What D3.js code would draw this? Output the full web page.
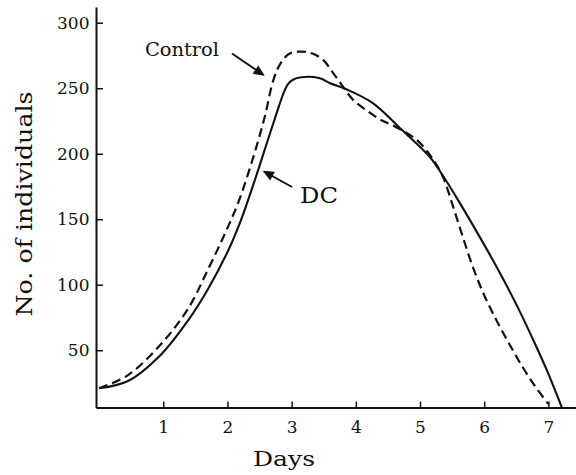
<!DOCTYPE html>
<html>
<head>
<meta charset="utf-8">
<script src="https://cdn.jsdelivr.net/npm/d3@7"></script>
<style>
  html, body { margin: 0; padding: 0; background: #fff; }
  svg { display: block; }
  text { font-family: "DejaVu Serif", serif; fill: #111; }
</style>
</head>
<body>
<script>
// Population counts over time (days) for the control and DC groups
const controlDays = [0, 0.45, 0.97, 1.39, 1.70, 1.96, 2.17, 2.40, 2.58, 2.72, 2.84, 2.97, 3.13, 3.31, 3.49, 3.65, 3.80, 3.96, 4.17, 4.38, 4.58, 4.95, 5.20, 5.36, 5.50, 5.65, 5.82, 6.00, 6.20, 6.40, 6.60, 6.80, 7.00];
const controlCounts = [21, 31, 55, 82, 112, 139, 163, 197, 228, 257, 270, 276.5, 278, 276.7, 271.6, 261.4, 251.2, 241, 233, 226, 221.5, 210.5, 196, 182, 162, 139, 114, 92, 72, 54, 37, 22, 9];

const dcDays = [0, 0.45, 0.97, 1.39, 1.70, 2.01, 2.20, 2.40, 2.60, 2.80, 2.88, 2.94, 3.02, 3.15, 3.44, 3.60, 3.86, 4.27, 4.69, 5.15, 5.36, 5.60, 5.90, 6.20, 6.50, 6.80, 7.00, 7.21];
const dcCounts = [21, 26.5, 47, 73, 97, 126, 148, 176, 206, 236, 247, 253, 256.5, 258.4, 257.6, 253.8, 249, 238.5, 219.4, 197.7, 183, 164, 139, 113, 85, 54, 32, 6.3];

const xTicks = [1, 2, 3, 4, 5, 6, 7];
const yTicks = [50, 100, 150, 200, 250, 300];

const W = 576, H = 475;
const svg = d3.select("body").append("svg").attr("width", W).attr("height", H);

const x = d3.scaleLinear().domain([-0.048, 7.43]).range([96, 576]);
const y = d3.scaleLinear().domain([6.3, 312]).range([407.5, 7]);

// Axes with inward ticks
const xAxis = d3.axisBottom(x).tickValues(xTicks).tickFormat(d3.format("d"))
  .tickSizeInner(-6).tickSizeOuter(0).tickPadding(13);
const yAxis = d3.axisLeft(y).tickValues(yTicks).tickFormat(d3.format("d"))
  .tickSizeInner(-7).tickSizeOuter(0).tickPadding(6.5);

const gx = svg.append("g").attr("transform", `translate(0,${y.range()[0]})`).call(xAxis);
const gy = svg.append("g").attr("transform", `translate(${x.range()[0]},0)`).call(yAxis);

[gx, gy].forEach(g => {
  g.select(".domain").attr("stroke", "#111").attr("stroke-width", 2);
  g.selectAll(".tick line").attr("stroke", "#111").attr("stroke-width", 1.5);
  g.selectAll(".tick text").attr("font-size", 17).attr("fill", "#111")
    .style("font-family", "'DejaVu Serif', serif");
});

// Axis titles
svg.append("text")
  .attr("x", 284).attr("y", 466)
  .attr("text-anchor", "middle")
  .attr("font-size", 21)
  .attr("textLength", 62).attr("lengthAdjust", "spacingAndGlyphs")
  .text("Days");

svg.append("text")
  .attr("transform", "translate(32,204) rotate(-90)")
  .attr("text-anchor", "middle")
  .attr("font-size", 22)
  .attr("textLength", 225).attr("lengthAdjust", "spacingAndGlyphs")
  .text("No. of individuals");

// Curves
const line = d3.line().x(d => x(d[0])).y(d => y(d[1])).curve(d3.curveCatmullRom.alpha(0.5));

svg.append("path")
  .datum(d3.zip(dcDays, dcCounts))
  .attr("d", line)
  .attr("fill", "none").attr("stroke", "#111").attr("stroke-width", 2.1);

svg.append("path")
  .datum(d3.zip(controlDays, controlCounts))
  .attr("d", line)
  .attr("fill", "none").attr("stroke", "#111").attr("stroke-width", 2.2)
  .attr("stroke-dasharray", "9,5");

// Labels with arrows
function arrow(x1, y1, x2, y2) {
  svg.append("line")
    .attr("x1", x1).attr("y1", y1).attr("x2", x2).attr("y2", y2)
    .attr("stroke", "#111").attr("stroke-width", 2);
  const a = Math.atan2(y2 - y1, x2 - x1), L = 10, s = 0.42;
  const p1 = [x2 - L * Math.cos(a - s), y2 - L * Math.sin(a - s)];
  const p2 = [x2 - L * Math.cos(a + s), y2 - L * Math.sin(a + s)];
  svg.append("path")
    .attr("d", `M${p1[0]},${p1[1]}L${x2},${y2}L${p2[0]},${p2[1]}Z`)
    .attr("fill", "#111").attr("stroke", "#111").attr("stroke-width", 1.2)
    .attr("stroke-linejoin", "miter");
}

svg.append("text")
  .attr("x", 145).attr("y", 56)
  .attr("font-size", 18)
  .attr("textLength", 74).attr("lengthAdjust", "spacingAndGlyphs")
  .text("Control");
arrow(232, 53.5, 263.5, 75);

svg.append("text")
  .attr("x", 300).attr("y", 203)
  .attr("font-size", 22)
  .attr("textLength", 38).attr("lengthAdjust", "spacingAndGlyphs")
  .text("DC");
arrow(292, 187, 264, 171.5);
</script>
</body>
</html>
